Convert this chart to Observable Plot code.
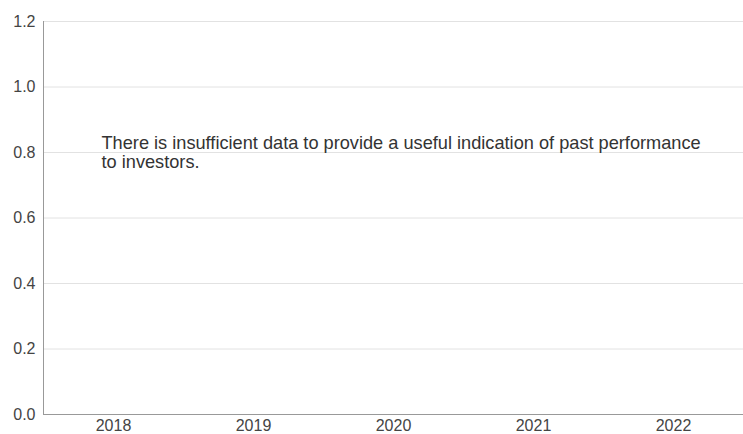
<!DOCTYPE html>
<html>
<head>
<meta charset="utf-8">
<script src="https://cdn.jsdelivr.net/npm/d3@7"></script>
<script src="https://cdn.jsdelivr.net/npm/@observablehq/plot@0.6"></script>
<style>
  html, body { margin: 0; padding: 0; background: #fff; }
  svg { font-family: "Liberation Sans", Arial, sans-serif; }
</style>
</head>
<body>
<div id="chart"></div>
<script>
const years = ["2018", "2019", "2020", "2021", "2022"];
const values = []; // no performance data available
const yTicks = [0, 0.2, 0.4, 0.6, 0.8, 1.0, 1.2];
const message = "There is insufficient data to provide a useful indication of past performance\nto investors.";

const chart = Plot.plot({
  width: 743,
  height: 434,
  marginLeft: 43,
  marginRight: 0,
  marginTop: 21,
  marginBottom: 20,
  style: { fontSize: "16px", color: "#444", background: "#fff", fontFamily: "'Liberation Sans', Arial, sans-serif", overflow: "visible" },
  x: { type: "band", domain: years, label: null, paddingInner: 0, paddingOuter: 0 },
  y: { domain: [0, 1.2], label: null },
  marks: [
    Plot.gridY(yTicks, { stroke: "#e2e2e2", strokeOpacity: 1 }),
    Plot.barY(values, { x: "year", y: "value", fill: "#1f4e79" }),
    Plot.axisX({ tickSize: 0, tickPadding: 5, fontSize: 16, fill: "#444" }),
    Plot.axisY(yTicks, { tickSize: 0, tickPadding: 8, fontSize: 16, fill: "#444", tickFormat: d => d.toFixed(1) }),
    Plot.frame({ anchor: "left", stroke: "#999" }),
    Plot.ruleY([0], { stroke: "#999" }),
    Plot.text([message], {
      x: () => years[0], y: () => 0.8,
      text: d => d, textAnchor: "start", lineAnchor: "middle",
      dx: -12, fontSize: 18.2, lineHeight: 1.05, fill: "#333"
    })
  ]
});
document.getElementById("chart").appendChild(chart);
</script>
</body>
</html>
